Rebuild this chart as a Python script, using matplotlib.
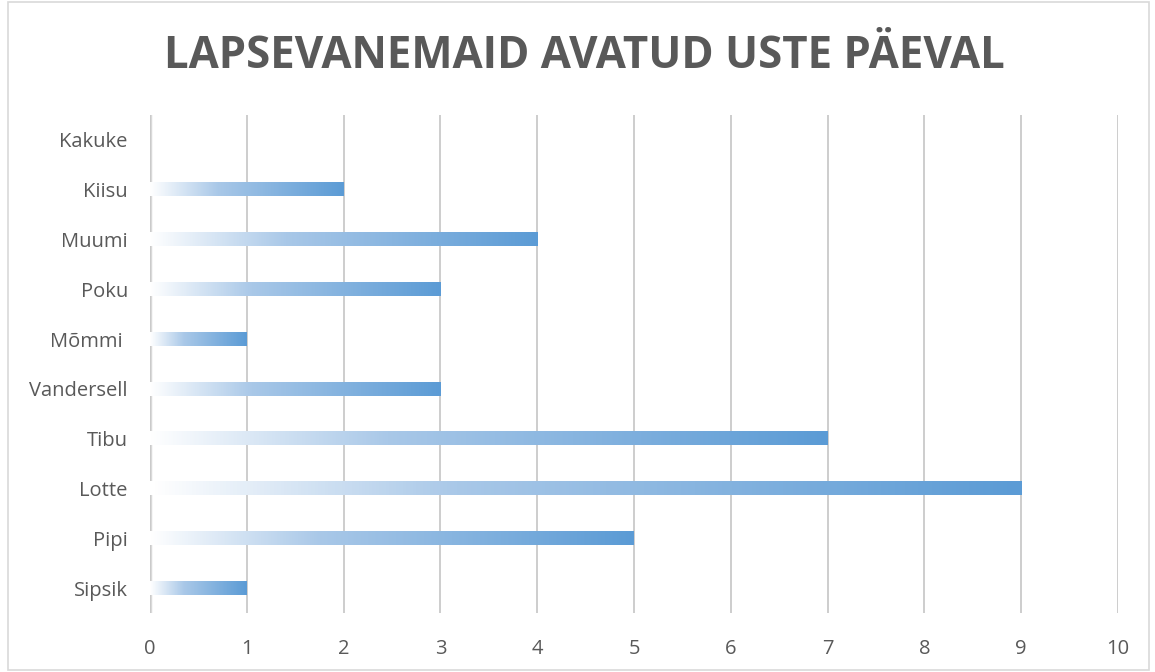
import numpy as np
import matplotlib.pyplot as plt
from matplotlib.colors import LinearSegmentedColormap
from matplotlib.patches import Rectangle

categories = ["Sipsik", "Pipi", "Lotte", "Tibu", "Vandersell", "Mõmmi ", "Poku", "Muumi", "Kiisu", "Kakuke"]
values = [1, 5, 9, 7, 3, 1, 3, 4, 2, 0]
x_ticks = list(range(0, 11))

title = "LAPSEVANEMAID AVATUD USTE PÄEVAL"
text_color = "#595959"
grid_color = "#C9C9C9"

plt.rcParams['font.family'] = ['Open Sans', 'DejaVu Sans']

# gradient like the Excel fill: white at the base, blue at the tip
cmap = LinearSegmentedColormap.from_list(
    "bar_grad", [(0.0, "#FFFFFF"), (0.35, "#A9C8E8"), (1.0, "#5B9BD5")])
grad = np.linspace(0, 1, 256).reshape(1, -1)

fig = plt.figure(figsize=(11.55, 6.72), dpi=100)
ax = fig.add_axes([150 / 1155, 1 - 613 / 672, 968 / 1155, 498 / 672])

bar_h = 0.27
for i, v in enumerate(values):
    if v <= 0:
        continue
    ax.imshow(grad, cmap=cmap, aspect="auto", interpolation="bilinear",
              extent=(0, v, i - bar_h / 2, i + bar_h / 2), zorder=3)

ax.set_xlim(0, 10)
ax.set_ylim(-0.5, len(categories) - 0.5)
ax.set_xticks(x_ticks)
ax.set_yticks(range(len(categories)))
ax.set_yticklabels(categories)
ax.grid(axis="x", color=grid_color, linewidth=1.3, zorder=0)
ax.axvline(0, color="#D9D9D9", linewidth=2.5, zorder=1)
for s in ax.spines.values():
    s.set_visible(False)
ax.tick_params(length=0, labelsize=14.5, labelcolor=text_color)
ax.tick_params(axis="x", pad=19)
ax.tick_params(axis="y", pad=16)

fig.text(584 / 1155, 1 - 57 / 672, title, ha="center", va="center",
         fontsize=31.5, fontweight="bold", color=text_color)

fig.patches.append(Rectangle((8 / 1155, 0.003), 1 - 14 / 1155, 0.994,
                             transform=fig.transFigure, fill=False,
                             edgecolor="#D9D9D9", linewidth=1.2))

fig.savefig("out.png", dpi=100)
